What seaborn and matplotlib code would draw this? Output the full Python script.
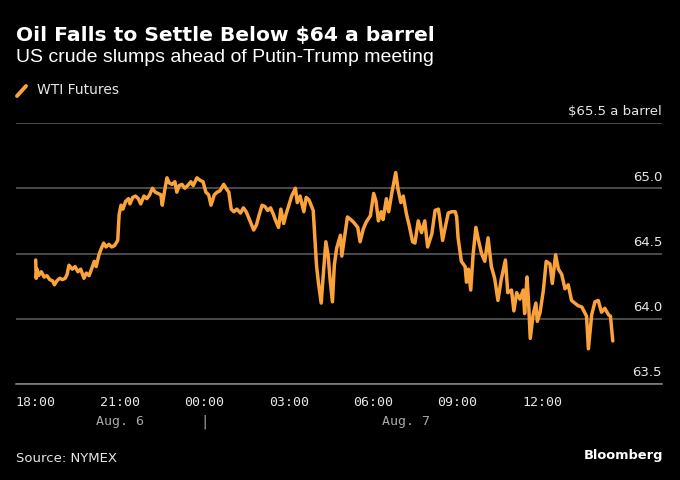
import matplotlib
matplotlib.use("Agg")
import matplotlib.pyplot as plt
import matplotlib.dates as mdates
import matplotlib.transforms as mtransforms
from matplotlib.lines import Line2D
import seaborn as sns
import pandas as pd

# ---------------- data ----------------
start_time = "2025-08-06 18:00"
minutes = [0, 1, 3, 6, 12, 18, 24, 30, 36, 40, 45, 51, 57, 63, 67, 71, 78, 84, 90, 96,
           103, 108, 114, 118, 125, 129, 135, 139, 145, 150, 156, 162, 168, 175, 178, 182, 186, 192, 198, 201,
           207, 213, 219, 224, 231, 237, 243, 249, 255, 261, 267, 270, 275, 280, 285, 291, 297, 301, 306, 312,
           318, 324, 331, 336, 344, 351, 357, 363, 369, 374, 381, 387, 393, 401, 408, 412, 417, 423, 429, 437,
           443, 449, 456, 465, 471, 477, 483, 489, 495, 501, 507, 511, 518, 523, 529, 534, 540, 546, 554, 558,
           564, 572, 577, 583, 592, 595, 599, 603, 609, 615, 619, 624, 628, 633, 637, 642, 650, 653, 657, 665,
           672, 678, 687, 692, 699, 705, 714, 721, 726, 731, 737, 741, 748, 753, 760, 768, 773, 779, 784, 791,
           797, 804, 809, 816, 823, 830, 836, 845, 852, 859, 862, 868, 873, 880, 887, 895, 898, 901, 908, 916,
           919, 923, 928, 933, 939, 944, 951, 958, 965, 972, 979, 986, 993, 1002, 1007, 1015, 1020, 1026, 1033, 1040,
           1043, 1048, 1051, 1055, 1061, 1067, 1070, 1076, 1083, 1089, 1097, 1102, 1109, 1115, 1122, 1129, 1136, 1143, 1150, 1157,
           1165, 1175, 1179, 1186, 1193, 1200, 1207, 1214, 1222, 1226, 1231]
prices = [64.45, 64.31, 64.38, 64.33, 64.36, 64.32, 64.33, 64.30, 64.29, 64.26, 64.29, 64.31, 64.30, 64.31, 64.34, 64.41, 64.38, 64.40, 64.36, 64.38,
          64.31, 64.35, 64.33, 64.37, 64.44, 64.40, 64.49, 64.53, 64.58, 64.55, 64.57, 64.55, 64.56, 64.60, 64.80, 64.87, 64.84, 64.90, 64.92, 64.88,
          64.93, 64.94, 64.92, 64.88, 64.94, 64.92, 64.95, 65.00, 64.97, 64.96, 64.95, 64.87, 64.98, 65.08, 65.04, 65.03, 65.05, 64.97, 65.02, 65.03,
          65.00, 65.02, 65.05, 65.02, 65.08, 65.06, 65.05, 64.97, 64.95, 64.87, 64.95, 64.97, 64.98, 65.03, 64.99, 64.97, 64.84, 64.82, 64.84, 64.81,
          64.85, 64.82, 64.76, 64.68, 64.72, 64.80, 64.87, 64.86, 64.83, 64.85, 64.80, 64.76, 64.70, 64.84, 64.73, 64.80, 64.87, 64.94, 65.00, 64.89,
          64.94, 64.82, 64.93, 64.91, 64.83, 64.65, 64.41, 64.28, 64.12, 64.41, 64.59, 64.48, 64.30, 64.13, 64.41, 64.54, 64.64, 64.48, 64.58, 64.78,
          64.76, 64.74, 64.70, 64.59, 64.69, 64.74, 64.79, 64.96, 64.90, 64.75, 64.82, 64.76, 64.92, 64.82, 64.97, 65.12, 64.99, 64.89, 64.94, 64.80,
          64.71, 64.59, 64.58, 64.75, 64.66, 64.75, 64.55, 64.65, 64.83, 64.84, 64.77, 64.60, 64.69, 64.81, 64.82, 64.82, 64.78, 64.62, 64.44, 64.40,
          64.28, 64.38, 64.22, 64.49, 64.70, 64.61, 64.50, 64.44, 64.62, 64.40, 64.31, 64.14, 64.30, 64.45, 64.20, 64.22, 64.06, 64.20, 64.15, 64.22,
          64.04, 64.32, 64.15, 63.85, 64.03, 64.12, 63.98, 64.05, 64.22, 64.44, 64.42, 64.27, 64.49, 64.38, 64.34, 64.23, 64.26, 64.14, 64.12, 64.10,
          64.09, 64.02, 63.77, 64.03, 64.13, 64.14, 64.05, 64.08, 64.03, 64.02, 63.83]

y_ticks = [63.5, 64.0, 64.5, 65.0, 65.5]
y_tick_labels = ["63.5", "64.0", "64.5", "65.0", "$65.5 a barrel"]
x_major_ticks = ["2025-08-06 18:00", "2025-08-06 21:00", "2025-08-07 00:00", "2025-08-07 03:00",
                 "2025-08-07 06:00", "2025-08-07 09:00", "2025-08-07 12:00"]
x_tick_labels = ["18:00", "21:00", "00:00", "03:00", "06:00", "09:00", "12:00"]
date_labels = ["Aug. 6", "Aug. 7"]
date_label_pos = ["2025-08-06 21:00", "2025-08-07 07:10"]
day_break = "2025-08-07 00:00"
x_range = ["2025-08-06 17:18", "2025-08-07 16:16"]
minor_range = ["2025-08-06 17:30", "2025-08-07 14:00"]

title = "Oil Falls to Settle Below $64 a barrel"
subtitle = "US crude slumps ahead of Putin-Trump meeting"
series_name = "WTI Futures"
source = "Source: NYMEX"

df = pd.DataFrame({
    "time": pd.Timestamp(start_time) + pd.to_timedelta(minutes, unit="m"),
    "price": prices,
})

# ---------------- style ----------------
sns.set_theme(style="dark", rc={
    "figure.facecolor": "black",
    "axes.facecolor": "black",
    "savefig.facecolor": "black",
    "text.color": "white",
})
plt.rcParams["font.family"] = ["DejaVu Sans"]

ORANGE = "#fba23a"
GRID = "#5e5e5e"
LABEL = "#e6e6e6"

fig = plt.figure(figsize=(6.8, 4.8), dpi=100)
ax = fig.add_axes([16 / 680, 96 / 480, (662 - 16) / 680, (384 - 123) / 480])

sns.lineplot(data=df, x="time", y="price", ax=ax, color=ORANGE, linewidth=2.5)

ax.set_ylim(y_ticks[0], y_ticks[-1])
ax.set_xlim(pd.Timestamp(x_range[0]), pd.Timestamp(x_range[1]))
ax.set_xlabel("")
ax.set_ylabel("")

# gridlines
ax.set_yticks(y_ticks)
ax.set_yticklabels([])
ax.tick_params(axis="y", length=0)
ax.yaxis.grid(True, color=GRID, linewidth=1.1)
ax.xaxis.grid(False)
for s in ["top", "left", "right"]:
    ax.spines[s].set_visible(False)
ax.spines["bottom"].set_color("#8a8a8a")
ax.spines["bottom"].set_linewidth(1.1)

# y labels above gridlines, right aligned
blend = mtransforms.blended_transform_factory(ax.transAxes, ax.transData)
for v, lab in zip(y_ticks, y_tick_labels):
    ax.annotate(lab, xy=(1.0, v), xycoords=blend, xytext=(0, 5.5), textcoords="offset points",
                ha="right", va="baseline", fontsize=9.5, color=LABEL)

# x ticks
ax.set_xticks([pd.Timestamp(t) for t in x_major_ticks])
ax.set_xticklabels(x_tick_labels)
ax.set_xticks(list(pd.date_range(minor_range[0], minor_range[1], freq="30min")), minor=True)
ax.tick_params(axis="x", which="major", direction="out", length=5, width=1.0, color="#9a9a9a",
               labelsize=9.5, labelcolor=LABEL, pad=4)
ax.tick_params(axis="x", which="minor", direction="out", length=3, width=0.8, color="#7a7a7a")
for lab in ax.get_xticklabels():
    lab.set_fontfamily("DejaVu Sans Mono")

blend_x = mtransforms.blended_transform_factory(ax.transData, ax.transAxes)
for pos, lab in zip(date_label_pos, date_labels):
    ax.annotate(lab, xy=(mdates.date2num(pd.Timestamp(pos)), 0), xycoords=blend_x,
                xytext=(0, -27), textcoords="offset points", ha="center", va="center",
                fontsize=9.5, color="#a8a8a8", family="DejaVu Sans Mono")
ax.annotate("|", xy=(mdates.date2num(pd.Timestamp(day_break)), 0), xycoords=blend_x,
            xytext=(0, -27), textcoords="offset points", ha="center", va="center",
            fontsize=10, color="#a8a8a8", family="DejaVu Sans Mono")

# titles
fig.text(16 / 680, 1 - 35 / 480, title, ha="left", va="center", fontsize=14.6,
         fontweight="bold", color="white", family="DejaVu Sans")
fig.text(16 / 680, 1 - 58 / 480, subtitle, ha="left", va="center", fontsize=14,
         color="white", family="Liberation Sans")

# legend
fig.add_artist(Line2D([17 / 680, 26 / 680], [1 - 96 / 480, 1 - 86 / 480], color=ORANGE,
                      linewidth=2.8, solid_capstyle="round"))
fig.text(37 / 680, 1 - 90.5 / 480, series_name, ha="left", va="center", fontsize=10,
         color=LABEL, family="DejaVu Sans")

# footer
fig.text(16 / 680, 1 - 458 / 480, source, ha="left", va="center", fontsize=9.5, color=LABEL,
         family="DejaVu Sans")
fig.text(663 / 680, 1 - 456 / 480, "Bloomberg", ha="right", va="center", fontsize=9.4,
         fontweight="bold", color="white", family="DejaVu Sans")

fig.savefig("out.png", dpi=100, facecolor="black")
